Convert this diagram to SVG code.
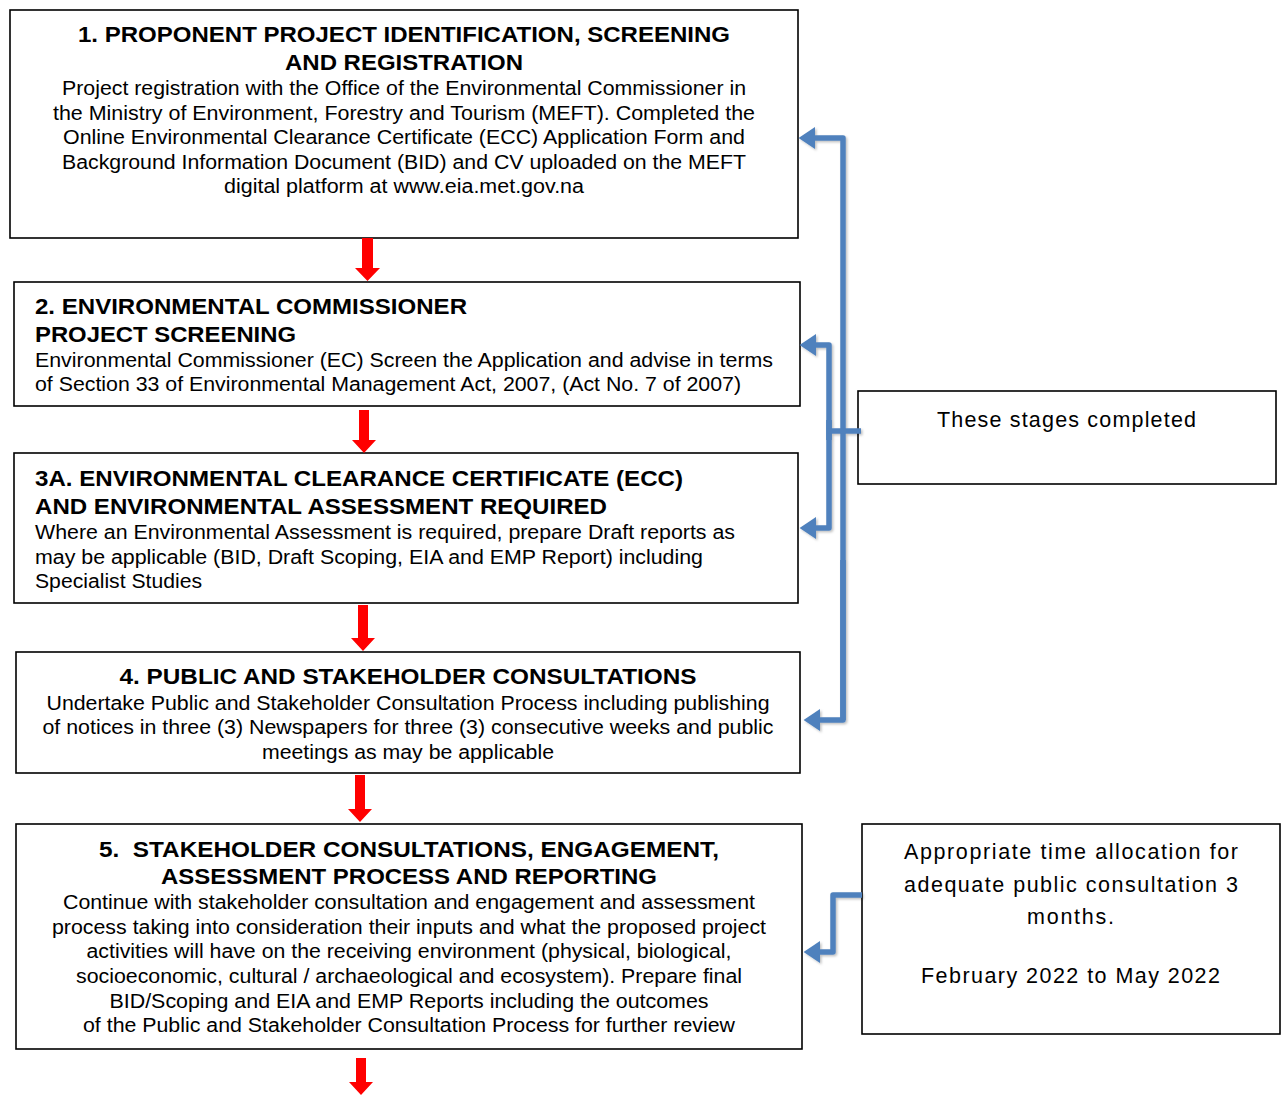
<svg xmlns="http://www.w3.org/2000/svg" width="1286" height="1095" viewBox="0 0 1286 1095">
<defs>
<style>
.box{fill:#fff;stroke:#000;stroke-width:1.6}
.t{font-family:"Liberation Sans",Arial,sans-serif;font-weight:bold;font-size:21.5px;fill:#000}
.b{font-family:"Liberation Sans",Arial,sans-serif;font-size:19.5px;fill:#000}
.r{font-family:"Liberation Sans",Arial,sans-serif;font-size:21.5px;fill:#000}
.blue{fill:none;stroke:#4f81bd;stroke-width:5.5;stroke-linejoin:round}
.red{fill:#ff0000}
</style>
<filter id="sh" x="-20%" y="-5%" width="140%" height="110%">
<feDropShadow dx="1.5" dy="1.5" stdDeviation="1" flood-color="#000" flood-opacity="0.25"/>
</filter>
<marker id="ah" markerWidth="4" markerHeight="4" refX="2.2" refY="2" orient="auto" markerUnits="strokeWidth">
<path d="M0,0 L3,2 L0,4 z" fill="#4f81bd"/>
</marker>
</defs>

<g id="node1">
<rect class="box" x="10" y="10" width="788" height="228"/>
<text class="t" x="404" y="42" text-anchor="middle" textLength="652" lengthAdjust="spacingAndGlyphs">1. PROPONENT PROJECT IDENTIFICATION, SCREENING</text>
<text class="t" x="404" y="70" text-anchor="middle" textLength="238" lengthAdjust="spacingAndGlyphs">AND REGISTRATION</text>
<text class="b" x="404" y="95" text-anchor="middle" textLength="684" lengthAdjust="spacingAndGlyphs">Project registration with the Office of the Environmental Commissioner in</text>
<text class="b" x="404" y="120" text-anchor="middle" textLength="702" lengthAdjust="spacingAndGlyphs">the Ministry of Environment, Forestry and Tourism (MEFT). Completed the</text>
<text class="b" x="404" y="144" text-anchor="middle" textLength="682" lengthAdjust="spacingAndGlyphs">Online Environmental Clearance Certificate (ECC) Application Form and</text>
<text class="b" x="404" y="169" text-anchor="middle" textLength="684" lengthAdjust="spacingAndGlyphs">Background Information Document (BID) and CV uploaded on the MEFT</text>
<text class="b" x="404" y="193" text-anchor="middle" textLength="360" lengthAdjust="spacingAndGlyphs">digital platform at www.eia.met.gov.na</text>
</g>

<g id="node2">
<rect class="box" x="14" y="282" width="786" height="124"/>
<text class="t" x="35" y="314" textLength="432" lengthAdjust="spacingAndGlyphs">2. ENVIRONMENTAL COMMISSIONER</text>
<text class="t" x="35" y="342" textLength="261" lengthAdjust="spacingAndGlyphs">PROJECT SCREENING</text>
<text class="b" x="35" y="367" textLength="738" lengthAdjust="spacingAndGlyphs">Environmental Commissioner (EC) Screen the Application and advise in terms</text>
<text class="b" x="35" y="391" textLength="706" lengthAdjust="spacingAndGlyphs">of Section 33 of Environmental Management Act, 2007, (Act No. 7 of 2007)</text>
</g>

<g id="node3A">
<rect class="box" x="14" y="453" width="784" height="150"/>
<text class="t" x="35" y="486" textLength="648" lengthAdjust="spacingAndGlyphs">3A. ENVIRONMENTAL CLEARANCE CERTIFICATE (ECC)</text>
<text class="t" x="35" y="514" textLength="572" lengthAdjust="spacingAndGlyphs">AND ENVIRONMENTAL ASSESSMENT REQUIRED</text>
<text class="b" x="35" y="539" textLength="700" lengthAdjust="spacingAndGlyphs">Where an Environmental Assessment is required, prepare Draft reports as</text>
<text class="b" x="35" y="564" textLength="668" lengthAdjust="spacingAndGlyphs">may be applicable (BID, Draft Scoping, EIA and EMP Report) including</text>
<text class="b" x="35" y="588" textLength="167" lengthAdjust="spacingAndGlyphs">Specialist Studies</text>
</g>

<g id="node4">
<rect class="box" x="16" y="652" width="784" height="121"/>
<text class="t" x="408" y="684" text-anchor="middle" textLength="577" lengthAdjust="spacingAndGlyphs">4. PUBLIC AND STAKEHOLDER CONSULTATIONS</text>
<text class="b" x="408" y="710" text-anchor="middle" textLength="723" lengthAdjust="spacingAndGlyphs">Undertake Public and Stakeholder Consultation Process including publishing</text>
<text class="b" x="408" y="734" text-anchor="middle" textLength="731" lengthAdjust="spacingAndGlyphs">of notices in three (3) Newspapers for three (3) consecutive weeks and public</text>
<text class="b" x="408" y="759" text-anchor="middle" textLength="292" lengthAdjust="spacingAndGlyphs">meetings as may be applicable</text>
</g>

<g id="node5">
<rect class="box" x="16" y="824" width="786" height="225"/>
<text class="t" x="409" y="857" text-anchor="middle" textLength="620" lengthAdjust="spacingAndGlyphs" xml:space="preserve">5.  STAKEHOLDER CONSULTATIONS, ENGAGEMENT,</text>
<text class="t" x="409" y="884" text-anchor="middle" textLength="496" lengthAdjust="spacingAndGlyphs">ASSESSMENT PROCESS AND REPORTING</text>
<text class="b" x="409" y="909" text-anchor="middle" textLength="692" lengthAdjust="spacingAndGlyphs">Continue with stakeholder consultation and engagement and assessment</text>
<text class="b" x="409" y="934" text-anchor="middle" textLength="714" lengthAdjust="spacingAndGlyphs">process taking into consideration their inputs and what the proposed project</text>
<text class="b" x="409" y="958" text-anchor="middle" textLength="645" lengthAdjust="spacingAndGlyphs">activities will have on the receiving environment (physical, biological,</text>
<text class="b" x="409" y="983" text-anchor="middle" textLength="666" lengthAdjust="spacingAndGlyphs">socioeconomic, cultural / archaeological and ecosystem). Prepare final</text>
<text class="b" x="409" y="1008" text-anchor="middle" textLength="599" lengthAdjust="spacingAndGlyphs">BID/Scoping and EIA and EMP Reports including the outcomes</text>
<text class="b" x="409" y="1032" text-anchor="middle" textLength="652" lengthAdjust="spacingAndGlyphs">of the Public and Stakeholder Consultation Process for further review</text>
</g>

<g id="noteCompleted">
<rect class="box" x="858" y="391" width="418" height="93"/>
<text class="r" x="937" y="427" textLength="259" lengthAdjust="spacing">These stages completed</text>
</g>

<g id="noteTime">
<rect class="box" x="862" y="824" width="418" height="210"/>
<text class="r" x="904" y="859" textLength="334" lengthAdjust="spacing">Appropriate time allocation for</text>
<text class="r" x="904" y="892" textLength="334" lengthAdjust="spacing">adequate public consultation 3</text>
<text class="r" x="1027" y="924" textLength="87" lengthAdjust="spacing">months.</text>
<text class="r" x="921" y="983" textLength="299" lengthAdjust="spacing">February 2022 to May 2022</text>
</g>

<g id="connectors">
<path class="red" d="M362,238 H373 V268 H380 L367.5,281 L355,268 H362 Z"/>
<path class="red" d="M359,410 H369 V440 H376 L364,453 L352,440 H359 Z"/>
<path class="red" d="M358,605 H368 V638 H375 L363,651 L351,638 H358 Z"/>
<path class="red" d="M355,775 H365 V809 H372 L360,822 L348,809 H355 Z"/>
<path class="red" d="M356,1058 H366 V1082 H373 L361,1095 L349,1082 H356 Z"/>

<g filter="url(#sh)">
<path class="blue" d="M843,720 V138 H803" marker-end="url(#ah)"/>
<path class="blue" d="M843,560 V720 H808" marker-end="url(#ah)"/>
<path class="blue" d="M829,440 V345 H804" marker-end="url(#ah)"/>
<path class="blue" d="M829,420 V528 H804" marker-end="url(#ah)"/>
<path class="blue" d="M827,431 H861"/>
<path class="blue" d="M862,895 H833 V952 H808" marker-end="url(#ah)"/>
</g>
</g>
</svg>
